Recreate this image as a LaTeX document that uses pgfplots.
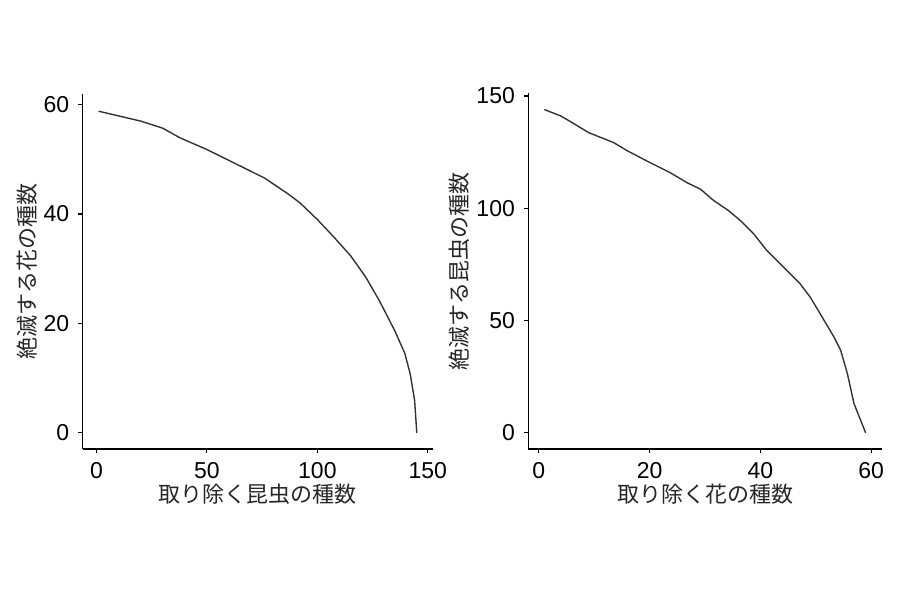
\documentclass[border=0pt]{standalone}
\usepackage{fontspec}
\setmainfont{Liberation Sans}
\newfontfamily\cjk{Noto Sans CJK JP}
\usepackage{pgfplots}
\pgfplotsset{compat=1.18}

\definecolor{curve}{HTML}{333333}

\pgfplotstableread{
x y
1 58.8
20 57.0
30 55.7
38 53.9
50 51.8
65 48.8
76 46.6
86 43.9
92 42.1
100 39.0
107 36.0
115 32.4
122 28.4
128 24.2
135 18.7
139.6 14.5
142 10.8
144 6.0
145 0
}\insectsremoved

\pgfplotstableread{
x y
1 144
4 141.1
6 138.2
9 133.7
13.5 129.3
16 125.6
19.5 121.1
23.7 115.9
26.7 111.5
29.2 108.5
31.6 103.4
34.3 98.9
36.4 94.5
38.8 88.6
41.2 81.1
44.8 72.3
47.2 66.3
49 60.4
50.8 53.0
53.3 42.6
54.5 36.7
55.7 26.4
56.9 13.0
59 0
}\flowersremoved

\pgfplotsset{
  panel/.style={
    scale only axis,
    anchor=south west,
    axis x line*=bottom, axis y line*=left,
    axis line style={-, black, line width=0.7pt},
    tick align=outside,
    major tick length=2.2pt,
    tick style={black, line width=0.6pt},
    ticklabel style={font=\fontsize{11.5}{12}\selectfont, black},
    /pgf/number format/assume math mode=true,
    label style={font=\cjk\fontsize{11}{12}\selectfont, black!85},
    xticklabel style={yshift=-1pt},
    yticklabel style={xshift=-1pt},
    xlabel style={yshift=4pt},
    ylabel style={yshift=-3.5pt},
  },
}

\begin{document}
\begin{tikzpicture}
\useasboundingbox (0,0) rectangle (450pt,301.5pt);

\begin{axis}[panel,
  at={(41.35pt,77pt)}, width=175pt, height=177.5pt,
  xmin=-6.2, xmax=152.2, ymin=-2.95, ymax=61.95,
  xtick={0,50,100,150}, ytick={0,20,40,60},
  xlabel={取り除く昆虫の種数}, ylabel={絶滅する花の種数},
]
\addplot[curve, line width=0.7pt] table[x=x, y=y] {\insectsremoved};
\end{axis}

\begin{axis}[panel,
  at={(264.15pt,77pt)}, width=176.7pt, height=177.8pt,
  xmin=-1.9, xmax=61.9, ymin=-7.2, ymax=151.2,
  xtick={0,20,40,60}, ytick={0,50,100,150},
  xlabel={取り除く花の種数}, ylabel={絶滅する昆虫の種数},
]
\addplot[curve, line width=0.7pt] table[x=x, y=y] {\flowersremoved};
\end{axis}
\end{tikzpicture}
\end{document}
